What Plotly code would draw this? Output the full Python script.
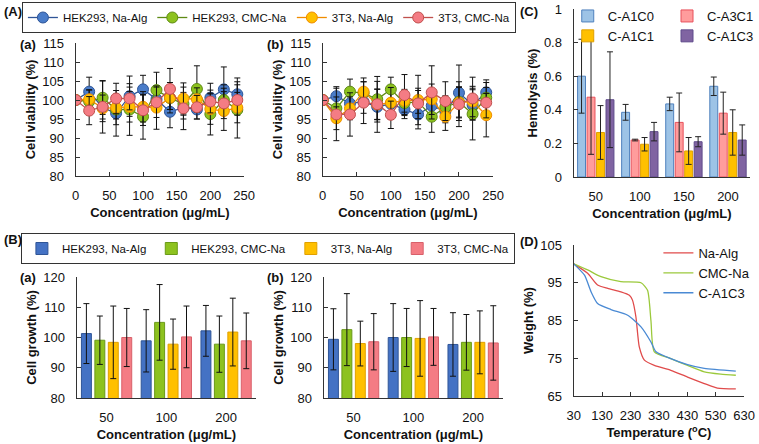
import plotly.graph_objects as go

# ---------------- data ----------------
conc_line = [0, 20, 40, 60, 80, 100, 120, 140, 160, 180, 200, 220, 240]
series_names = ["HEK293, Na-Alg", "HEK293, CMC-Na", "3T3, Na-Alg", "3T3, CMC-Na"]

# Panel A(a) cell viability
Aa_hek_alg = [100, 102.2, 98.0, 96.5, 101.0, 102.8, 100.2, 96.9, 98.0, 97.5, 100.6, 102.8, 101.5]
Aa_hek_cmc = [100, 99.6, 100.6, 97.5, 97.5, 95.6, 102.6, 100.5, 99.0, 102.9, 96.3, 100.0, 97.4]
Aa_3t3_alg = [100, 100.2, 97.8, 98.0, 98.2, 98.2, 98.0, 100.6, 100.4, 100.2, 97.6, 97.1, 98.0]
Aa_3t3_cmc = [100, 97.2, 98.2, 100.4, 100.4, 97.3, 99.4, 102.9, 97.8, 98.1, 99.6, 99.1, 100.0]
Aa_hek_alg_err = [0, 3.8, 3.0, 6.0, 5.3, 3.7, 3.0, 4.2, 3.0, 2.5, 3.8, 5.9, 4.3]
Aa_hek_cmc_err = [0, 3.0, 4.4, 4.0, 6.8, 5.9, 4.7, 3.0, 3.0, 6.1, 5.5, 4.0, 7.4]
Aa_3t3_alg_err = [0, 2.5, 3.5, 3.0, 4.0, 4.0, 5.7, 4.0, 4.1, 3.0, 4.0, 5.1, 4.0]
Aa_3t3_cmc_err = [0, 3.7, 6.9, 4.0, 3.0, 4.0, 4.0, 5.4, 5.6, 3.1, 3.0, 4.0, 4.0]

# Panel A(b) cell viability
Ab_hek_alg = [100, 101.0, 99.1, 99.5, 98.2, 99.0, 97.5, 96.2, 98.5, 97.0, 101.9, 98.7, 102.0]
Ab_hek_cmc = [100, 97.8, 102.2, 101.8, 100.2, 102.8, 99.2, 99.5, 95.6, 98.1, 99.5, 96.3, 100.6]
Ab_3t3_alg = [100, 95.2, 97.8, 102.2, 98.8, 99.3, 99.8, 100.0, 100.2, 95.6, 99.3, 99.6, 96.0]
Ab_3t3_cmc = [100, 96.2, 96.2, 99.3, 98.9, 96.1, 101.3, 99.1, 102.0, 99.7, 98.9, 100.4, 99.3]
Ab_hek_alg_err = [0, 2.5, 3.0, 3.0, 6.7, 4.0, 2.4, 3.8, 3.5, 3.0, 7.3, 4.0, 3.3]
Ab_hek_cmc_err = [0, 3.0, 3.3, 3.0, 6.0, 3.2, 3.0, 3.0, 4.1, 3.0, 4.0, 6.8, 4.0]
Ab_3t3_alg_err = [0, 3.0, 3.0, 3.6, 4.0, 4.0, 3.0, 6.5, 4.0, 3.6, 4.0, 4.0, 5.7]
Ab_3t3_cmc_err = [0, 6.9, 5.7, 5.5, 4.0, 3.6, 5.4, 4.0, 7.0, 5.1, 5.9, 5.6, 4.0]

# Panel B cell growth
conc_bar = ["50", "100", "200"]
Ba_vals = [[101.3, 98.9, 102.2], [99.1, 105.0, 97.8], [98.4, 97.8, 101.8], [100.0, 100.2, 98.9]]
Ba_errs = [[9.9, 10.3, 8.4], [8.0, 12.5, 9.3], [12.0, 8.3, 11.2], [9.6, 10.2, 9.2]]
Bb_vals = [[99.4, 100.0, 97.7], [102.6, 100.0, 98.4], [98.0, 99.7, 98.4], [98.6, 100.2, 98.2]]
Bb_errs = [[10.1, 11.2, 10.5], [11.9, 9.6, 9.2], [7.4, 12.5, 10.4], [9.3, 9.4, 12.3]]

# Panel C hemolysis
conc_hemo = ["50", "100", "150", "200"]
hemo_names = ["C-A1C0", "C-A3C1", "C-A1C1", "C-A1C3"]
hemo_vals = [[0.60, 0.385, 0.435, 0.54], [0.475, 0.22, 0.325, 0.38],
             [0.265, 0.195, 0.155, 0.265], [0.46, 0.27, 0.21, 0.22]]
hemo_errs = [[0.22, 0.047, 0.04, 0.055], [0.34, 0.005, 0.175, 0.125],
             [0.16, 0.04, 0.08, 0.135], [0.285, 0.055, 0.03, 0.09]]
hemo_ticks = [0, 0.2, 0.4, 0.6, 0.8, 1]
hemo_ticktext = ["0", "0.2", "0.4", "0.6", "0.8", "1"]

# Panel D TGA
tga_names = ["Na-Alg", "CMC-Na", "C-A1C3"]
temp_alg = [30, 79, 114, 150, 196, 226, 237, 249, 261, 279, 314, 372, 431, 490, 536, 601]
wt_alg = [100, 97.5, 94.4, 93.5, 92.6, 91.7, 90.4, 86.0, 78.0, 74.5, 73.1, 71.8, 70.0, 68.3, 67.1, 66.9]
temp_cmc = [30, 79, 126, 196, 267, 290, 302, 314, 372, 431, 490, 548, 601]
wt_cmc = [100, 98.4, 96.6, 95.3, 95.0, 93.0, 85.0, 76.7, 74.9, 73.1, 71.4, 70.8, 70.5]
temp_c13 = [30, 68, 91, 114, 161, 220, 267, 302, 320, 372, 431, 490, 601]
wt_c13 = [100, 97.0, 92.6, 89.5, 87.9, 86.4, 83.3, 79.3, 76.7, 74.9, 73.3, 72.3, 71.6]

# ---------------- styling ----------------
W, H = 759, 444
FONT = "Arial, Liberation Sans, sans-serif"
AX = "#333333"
line_fill = ["#4A7CC9", "#8DC21F", "#FFC000", "#F47C84"]
line_edge = ["#2F5597", "#5E8A14", "#F08C00", "#C0504D"]
bar_fill = ["#4472C4", "#8DC21F", "#FFC000", "#F47C84"]
bar_edge = ["#2F5597", "#6A9A18", "#E0A000", "#D8606A"]
hemo_fill = ["#9DC3E6", "#FF9C9C", "#FFC000", "#8064A2"]
hemo_edge = ["#4F81BD", "#E8505B", "#E0A000", "#5F4B8B"]
tga_color = ["#E04B4B", "#9BC93C", "#4A8AD4"]


def xd(a, b):
    return [a / W, b / W]


def yd(top, bottom):
    return [1 - bottom / H, 1 - top / H]


fig = go.Figure()

A_sets = [
    ("x", "y", [Aa_hek_alg, Aa_hek_cmc, Aa_3t3_alg, Aa_3t3_cmc],
     [Aa_hek_alg_err, Aa_hek_cmc_err, Aa_3t3_alg_err, Aa_3t3_cmc_err], True),
    ("x2", "y2", [Ab_hek_alg, Ab_hek_cmc, Ab_3t3_alg, Ab_3t3_cmc],
     [Ab_hek_alg_err, Ab_hek_cmc_err, Ab_3t3_alg_err, Ab_3t3_cmc_err], False),
]
for xa, ya, vals, errs, show in A_sets:
    for i in range(4):
        fig.add_trace(go.Scatter(
            x=conc_line, y=vals[i], name=series_names[i], xaxis=xa, yaxis=ya,
            mode="lines+markers", legend="legend", showlegend=show,
            line=dict(color=line_edge[i], width=1.3),
            marker=dict(size=11, color=line_fill[i], line=dict(color=line_edge[i], width=1)),
            error_y=dict(type="data", array=errs[i], visible=True, color="#111111",
                         thickness=1, width=3),
        ))

# C hemolysis bars
offs = [-0.4125, -0.1975, 0.0175, 0.2325]
for i in range(4):
    fig.add_trace(go.Bar(
        x=conc_hemo, y=hemo_vals[i], name=hemo_names[i], xaxis="x3", yaxis="y3",
        legend="legend3" if i in (0, 2) else "legend4",
        width=0.18, offset=offs[i],
        marker=dict(color=hemo_fill[i], line=dict(color=hemo_edge[i], width=1)),
        error_y=dict(type="data", array=hemo_errs[i], visible=True, color="#222222",
                     thickness=1, width=3),
    ))

# B growth bars
for xa, ya, vals, errs, show in [("x4", "y4", Ba_vals, Ba_errs, True),
                                 ("x5", "y5", Bb_vals, Bb_errs, False)]:
    for i in range(4):
        fig.add_trace(go.Bar(
            x=conc_bar, y=vals[i], name=series_names[i], xaxis=xa, yaxis=ya,
            legend="legend2", showlegend=show,
            marker=dict(color=bar_fill[i], line=dict(color=bar_edge[i], width=1)),
            error_y=dict(type="data", array=errs[i], visible=True, color="#111111",
                         thickness=1, width=3),
        ))

# D TGA
for name, tx, wy, c in zip(tga_names, [temp_alg, temp_cmc, temp_c13],
                           [wt_alg, wt_cmc, wt_c13], tga_color):
    fig.add_trace(go.Scatter(
        x=tx, y=wy, name=name, xaxis="x6", yaxis="y6", mode="lines",
        line=dict(color=c, width=1.3, shape="spline", smoothing=0.6),
        legend="legend5",
    ))

tickfont = dict(family=FONT, size=13, color="#111")
titlefont = dict(family=FONT, size=13, color="#111", weight="bold")


def xaxis(dom, anchor, rng=None, dtick=None, title="Concentration (μg/mL)", standoff=6,
          ticks="inside"):
    d = dict(domain=xd(*dom), anchor=anchor, showline=True, linecolor=AX, linewidth=1.3,
             ticks=ticks, ticklen=4, tickcolor=AX, showgrid=False, zeroline=False,
             tickfont=tickfont, ticklabelstandoff=7,
             title=dict(text=title, font=titlefont, standoff=standoff), automargin=False)
    if rng is not None:
        d.update(range=rng, dtick=dtick, tick0=rng[0])
    return d


def yaxis(dom, anchor, rng, dtick, title, standoff=3):
    d = dict(domain=yd(*dom), anchor=anchor, range=rng, dtick=dtick, tick0=rng[0],
             showline=True, linecolor=AX, linewidth=1.3, ticks="inside", ticklen=4,
             tickcolor=AX, showgrid=False, zeroline=False, tickfont=tickfont,
             ticklabelstandoff=8,
             title=dict(text=title, font=titlefont, standoff=standoff), automargin=False)
    return d


legfont = dict(family=FONT, size=11.5, color="#111")
layout = dict(
    width=W, height=H, margin=dict(l=0, r=0, t=0, b=0),
    paper_bgcolor="white", plot_bgcolor="white",
    font=dict(family=FONT, size=13, color="#111"),
    barmode="group", bargap=0.1, bargroupgap=0.26,
    xaxis=xaxis((76, 245), "y", [0, 250], 50),
    yaxis=yaxis((43, 176), "x", [80, 115], 5, "Cell viability (%)"),
    xaxis2=xaxis((324, 495), "y2", [0, 250], 50),
    yaxis2=yaxis((43, 176), "x2", [80, 115], 5, "Cell viability (%)"),
    xaxis3=xaxis((576, 753), "y3", ticks=""),
    yaxis3=yaxis((9, 177), "x3", [0, 1], 0.2, "Hemolysis (%)"),
    xaxis4=xaxis((77, 257), "y4", ticks=""),
    yaxis4=yaxis((277, 398), "x4", [80, 120], 10, "Cell growth (%)"),
    xaxis5=xaxis((325, 505), "y5", ticks=""),
    yaxis5=yaxis((277, 398), "x5", [80, 120], 10, "Cell growth (%)"),
    xaxis6=xaxis((576, 747), "y6", [30, 630], 100, title="Temperature (<sup>o</sup>C)"),
    yaxis6=yaxis((245, 396), "x6", [65, 105], 10, "Weight (%)"),
    legend=dict(orientation="h", x=22 / W, y=1 - 2 / H, xanchor="left", yanchor="top",
                bordercolor=AX, borderwidth=1, font=legfont,
                itemwidth=30, tracegroupgap=0, bgcolor="white"),
    legend2=dict(orientation="h", x=21 / W, y=1 - 233 / H, xanchor="left", yanchor="top",
                 bordercolor=AX, borderwidth=1, font=legfont,
                 itemwidth=30, bgcolor="white"),
    legend3=dict(orientation="v", x=570 / W, y=1 - 1 / H, xanchor="left", yanchor="top",
                 font=dict(family=FONT, size=13, color="#111"), bgcolor="rgba(0,0,0,0)",
                 itemwidth=30, tracegroupgap=0),
    legend4=dict(orientation="v", x=670 / W, y=1 - 1 / H, xanchor="left", yanchor="top",
                 font=dict(family=FONT, size=13, color="#111"), bgcolor="rgba(0,0,0,0)",
                 itemwidth=30, tracegroupgap=0),
    legend5=dict(orientation="v", x=661 / W, y=1 - 238 / H, xanchor="left", yanchor="top",
                 font=dict(family=FONT, size=13, color="#111"), bgcolor="rgba(0,0,0,0)",
                 itemwidth=30, tracegroupgap=0),
)
fig.update_layout(**layout)
fig.layout.yaxis3.tickvals = hemo_ticks
fig.layout.yaxis3.ticktext = hemo_ticktext

labels = [("(A)", 2, 12), ("(a)", 18, 45), ("(b)", 266, 45), ("(C)", 520, 12),
          ("(B)", 2, 239), ("(a)", 18, 277), ("(b)", 266, 277), ("(D)", 520, 241)]
for txt, px, py in labels:
    fig.add_annotation(text=txt, x=px / W, y=1 - py / H, xref="paper", yref="paper",
                       xanchor="left", yanchor="middle", showarrow=False,
                       font=dict(family=FONT, size=13, color="#111", weight="bold"))

fig.write_html("out.html", config={"displayModeBar": False},
               post_script="document.body.style.margin='0px';document.body.style.overflow='hidden';")
